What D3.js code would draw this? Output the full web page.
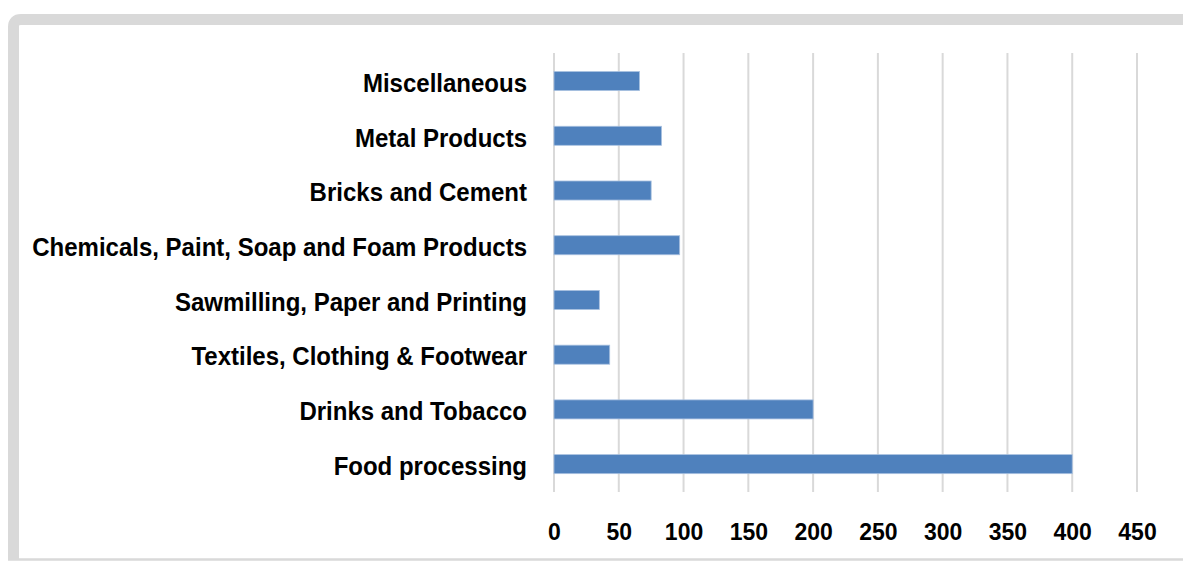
<!DOCTYPE html>
<html>
<head>
<meta charset="utf-8">
<script src="https://cdn.jsdelivr.net/npm/d3@7"></script>
<style>
  html, body { margin: 0; padding: 0; background: #ffffff; }
  svg { display: block; }
  text { font-family: "Liberation Sans", Arial, sans-serif; font-weight: bold; fill: #000; }
</style>
</head>
<body>
<svg id="chart" width="1183" height="561"></svg>
<script>
// Industry categories, top to bottom
const categories = [
  "Miscellaneous",
  "Metal Products",
  "Bricks and Cement",
  "Chemicals, Paint, Soap and Foam Products",
  "Sawmilling, Paper and Printing",
  "Textiles, Clothing & Footwear",
  "Drinks and Tobacco",
  "Food processing"
];
const values = [66, 83, 75, 97, 35, 43, 200, 400];
const xTicks = [0, 50, 100, 150, 200, 250, 300, 350, 400, 450];

const svg = d3.select("#chart");
const W = 1183, H = 561;

// Light grey frame: thick band on top and left with a rounded corner, thin line at the bottom
svg.append("path")
  .attr("d", "M1190,19.5 H21 Q13.5,19.5 13.5,27 V559")
  .attr("fill", "none")
  .attr("stroke", "#d9d9d9")
  .attr("stroke-width", 11);
svg.append("line")
  .attr("x1", 8).attr("x2", W).attr("y1", 559.5).attr("y2", 559.5)
  .attr("stroke", "#d9d9d9").attr("stroke-width", 2.5);

const plot = { left: 554, right: 1137, top: 53.7, bottom: 491.5 };

const x = d3.scaleLinear().domain([0, 450]).range([plot.left, plot.right]);
const y = d3.scaleBand().domain(categories).range([plot.top, plot.bottom]).paddingInner(0.652).paddingOuter(0.326);

// Vertical gridlines
svg.append("g")
  .selectAll("line")
  .data(xTicks)
  .join("line")
  .attr("x1", d => x(d)).attr("x2", d => x(d))
  .attr("y1", 53).attr("y2", 492)
  .attr("stroke", "#d9d9d9")
  .attr("stroke-width", 2);

// Bars
svg.append("g")
  .selectAll("rect")
  .data(categories.map((c, i) => ({ c, v: values[i] })))
  .join("rect")
  .attr("x", x(0))
  .attr("y", d => y(d.c))
  .attr("width", d => x(d.v) - x(0))
  .attr("height", y.bandwidth())
  .attr("fill", "#4f81bd")
  .attr("stroke", "#a9c1e0")
  .attr("stroke-width", 0.8);

// Condensed bold look: measure at the base size, then enlarge while keeping the width
function condense(sel, baseSize, tallSize) {
  sel.attr("font-size", baseSize);
  sel.each(function () {
    const w = this.getComputedTextLength();
    d3.select(this)
      .attr("font-size", tallSize)
      .attr("textLength", w)
      .attr("lengthAdjust", "spacingAndGlyphs");
  });
}

// Category labels
const yAxis = d3.axisLeft(y).tickSize(0).tickPadding(0);
const gy = svg.append("g").attr("transform", `translate(527,0)`).call(yAxis);
gy.select(".domain").remove();
gy.selectAll("text")
  .attr("font-family", "Liberation Sans, Arial, sans-serif")
  .attr("font-weight", "bold")
  .attr("fill", "#000")
  .attr("dy", "0.42em");
condense(gy.selectAll("text"), 24, 25.5);

// Value axis labels
const xAxis = d3.axisBottom(x).tickValues(xTicks).tickSize(0).tickPadding(0);
const gx = svg.append("g").attr("transform", `translate(0,531)`).call(xAxis);
gx.select(".domain").remove();
gx.selectAll("text")
  .attr("font-family", "Liberation Sans, Arial, sans-serif")
  .attr("font-weight", "bold")
  .attr("fill", "#000")
  .attr("dy", "0.36em");
condense(gx.selectAll("text"), 23, 24.5);
</script>
</body>
</html>
